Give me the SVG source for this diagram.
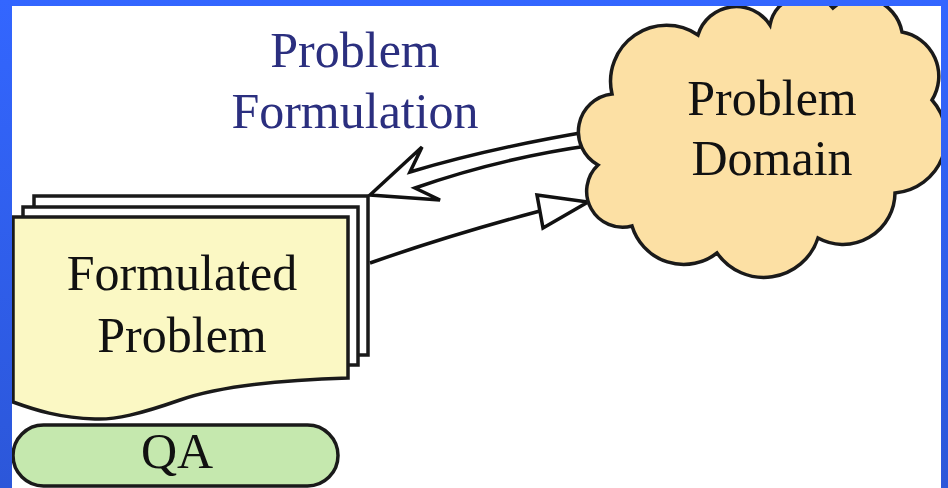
<svg xmlns="http://www.w3.org/2000/svg" width="948" height="488" viewBox="0 0 948 488">
<defs>
<linearGradient id="frameGrad" x1="0" y1="0" x2="0" y2="1">
<stop offset="0" stop-color="#3366ff"/>
<stop offset="1" stop-color="#2c57d9"/>
</linearGradient>
</defs>
<style>
.lbl{font-family:"Liberation Serif","Times New Roman",serif;font-size:50px;text-anchor:middle;fill:#111}
.title{fill:#2b2f7f}
.edge{stroke:#111;stroke-width:3.5;fill:#fff;stroke-linejoin:miter}
.line{stroke:#111;stroke-width:3.5;fill:none}
.shape{stroke:#1a1a1a;stroke-width:3.5}
</style>
<rect x="0" y="0" width="948" height="488" fill="#fff"/>
<text class="lbl title" x="355" y="67">Problem</text>
<text class="lbl title" x="355" y="128">Formulation</text>
<g id="connectors">
<path class="edge" d="M592,131 Q490,148 410,172 L422,147 L370,195 L440,200 L415,188 Q500,158 594,145"/>
<path class="line" d="M370,263 Q450,235 540,211"/>
<polygon class="edge" points="537,195 588,202 543,228"/>
</g>
<g id="problem-domain">
<path class="shape" fill="#fce0a4" d="M612,94 A56 56 0 0 1 698,35 A40 40 0 0 1 770,25 A36 36 0 0 1 833,8 A42 42 0 0 1 902,32 A45 45 0 0 1 932,100 A56 56 0 0 1 895,193 A52 52 0 0 1 818,238 A57 57 0 0 1 717,253 A54 54 0 0 1 632,226 A36 36 0 0 1 598,165 A38 38 0 0 1 612,94 Z"/>
<text class="lbl" x="772" y="115">Problem</text>
<text class="lbl" x="772" y="175">Domain</text>
</g>
<g id="formulated-problem">
<rect class="shape" x="34" y="196" width="334" height="159" fill="#fff"/>
<rect class="shape" x="23" y="207" width="335" height="158" fill="#fff"/>
<path class="shape" fill="#fbf8c4" d="M13,217 H348 V378 C280,380 220,386 180,400 C140,414 115,420 95,419 C60,418 35,410 13,402 Z"/>
<text class="lbl" x="182" y="290">Formulated</text>
<text class="lbl" x="182" y="352">Problem</text>
</g>
<g id="qa">
<rect class="shape" x="13" y="425" width="325" height="61" rx="30.5" fill="#c5e8ae"/>
<text class="lbl" x="177" y="468">QA</text>
</g>
<path fill="url(#frameGrad)" fill-rule="evenodd" d="M0,0 H948 V488 H0 Z M12,6 V488 H941 V6 Z"/>
</svg>
